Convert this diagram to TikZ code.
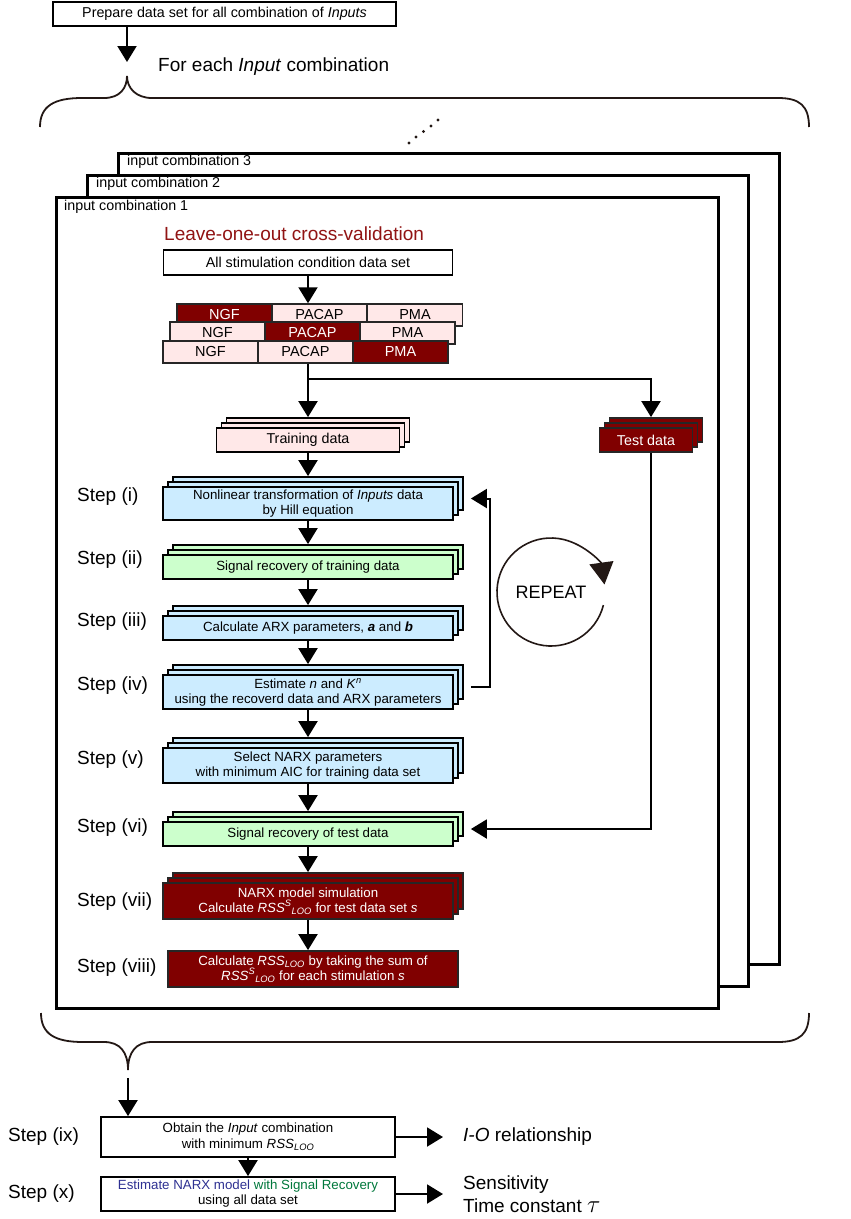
\documentclass[tikz,border=0pt]{standalone}
\usepackage{amsmath}
\usepackage{fontspec}
\setmainfont{Liberation Sans}
\usepackage{tikz}
\usetikzlibrary{arrows.meta,shadows}

\definecolor{darkred}{RGB}{128,0,0}
\definecolor{titlered}{RGB}{145,20,20}
\definecolor{pinkfill}{RGB}{255,232,232}
\definecolor{bluefill}{RGB}{204,236,255}
\definecolor{greenfill}{RGB}{204,255,204}
\definecolor{bracecol}{RGB}{35,24,21}
\definecolor{narxblue}{RGB}{46,49,146}
\definecolor{recgreen}{RGB}{0,120,60}

\newcommand{\rssloo}{\textit{RSS}\textsubscript{\textit{LOO}}}
\newcommand{\rsssloo}{\textit{RSS}\textsuperscript{\textit{S}}\textsubscript{\textit{LOO}}}

\begin{document}
\begin{tikzpicture}[x=1pt, y=-1pt]
    \tikzstyle{arr}=[
        line width = 2pt,
        -{Triangle[length=16pt, width=19pt]}
    ]
    \tikzstyle{brace}=[
        draw = bracecol,
        line width = 1.8pt
    ]
    \tikzstyle{frame}=[
        draw = black,
        line width = 2.5pt,
        fill = white,
        anchor = north west,
        inner sep = 0pt
    ]
    \tikzstyle{frame label}=[
        anchor = west,
        inner sep = 0pt,
        font = \fontsize{14.3}{16}\selectfont
    ]
    \tikzstyle{big text}=[
        anchor = west,
        inner sep = 0pt,
        font = \fontsize{19}{23}\selectfont
    ]
    \tikzstyle{plain box}=[
        draw = black,
        line width = 1.8pt,
        fill = white,
        align = center,
        inner sep = 1pt,
        font = \fontsize{13.3}{15}\selectfont
    ]
    \tikzstyle{stacked}=[
        copy shadow = {shadow xshift=10pt, shadow yshift=10pt},
        copy shadow = {shadow xshift=5pt, shadow yshift=5pt}
    ]
    \tikzstyle{blue step}=[plain box, stacked, fill=bluefill, minimum width=290pt]
    \tikzstyle{green step}=[plain box, stacked, fill=greenfill, minimum width=290pt, minimum height=24pt]
    \tikzstyle{red step}=[plain box, fill=darkred, draw=black!85, text=white, minimum width=290pt]
    \tikzstyle{light cell}=[
        draw = black!85,
        line width = 1.5pt,
        fill = pinkfill,
        minimum width = 95pt,
        minimum height = 22pt,
        inner sep = 0pt,
        font = \fontsize{14.5}{16}\selectfont
    ]
    \tikzstyle{dark cell}=[light cell, fill=darkred, text=white]

    \useasboundingbox (0,0) rectangle (851,1219);

    % top of the chart
    \node[plain box, minimum width=343pt, minimum height=24pt, font=\fontsize{14.3}{16}\selectfont] (prep) at (224.5,14) {Prepare data set for all combination of \textit{Inputs}};
    \coordinate (tip1) at (127,76);
    \coordinate (tip2) at (128,1070);
    \draw[arr] (prep.south -| tip1) -- ([yshift=14pt]tip1);
    \node[big text] (each) at (158,67) {For each \textit{Input} combination};

    \draw[brace] (40,127) .. controls (40,106) and (54,98) .. (82,98) -- (104,98) .. controls (120,98) and (127,88) .. (tip1) .. controls (127,88) and (136,98) .. (152,98) -- (778,98) .. controls (800,98) and (809,106) .. (809,127);
    \fill[bracecol] (409,143) circle[radius=1.6pt] (416,137) circle[radius=1.6pt] (423.5,131.5) circle[radius=1.6pt] (431,126) circle[radius=1.6pt] (438,120) circle[radius=1.6pt];

    % one frame for each input combination
    \node[frame, minimum width=661pt, minimum height=811pt] (comb3) at (117,152) {};
    \node[frame label] (lab3) at (127,162) {input combination 3};
    \node[frame, minimum width=661pt, minimum height=811pt] (comb2) at (86,174) {};
    \node[frame label] (lab2) at (96,184) {input combination 2};
    \node[frame, minimum width=662pt, minimum height=811pt] (comb1) at (55,196) {};
    \node[frame label] (lab1) at (64,207) {input combination 1};

    \node[big text, text=titlered] (loo) at (164,234) {Leave-one-out cross-validation};
    \node[plain box, minimum width=289pt, minimum height=25pt, font=\fontsize{14.3}{16}\selectfont] (all) at (308,262.5) {All stimulation condition data set};

    \node[dark cell]  (ngfA)   at (224.5,315) {NGF};
    \node[light cell] (pacapA) at (319.5,315) {PACAP};
    \node[light cell] (pmaA)   at (415,315)   {PMA};
    \node[light cell] (ngfB)   at (217.5,333) {NGF};
    \node[dark cell]  (pacapB) at (312.5,333) {PACAP};
    \node[light cell] (pmaB)   at (407.5,333) {PMA};
    \node[light cell] (ngfC)   at (210.5,352) {NGF};
    \node[light cell] (pacapC) at (305.5,352) {PACAP};
    \node[dark cell]  (pmaC)   at (400.5,352) {PMA};

    \node[plain box, stacked, fill=pinkfill, minimum width=183pt, minimum height=24pt, font=\fontsize{14.3}{16}\selectfont] (train) at (308,440) {Training data};
    \node[plain box, stacked, fill=darkred, draw=black!85, text=white, minimum width=93pt, minimum height=24pt, font=\fontsize{14.3}{16}\selectfont] (test) at (646,440) {Test data};

    \draw[arr] (all.south) -- (all.south |- pacapA.north);
    \coordinate (split) at (308,379);
    \draw[arr] (all.south |- pacapC.south) -- ([yshift=10pt]train.north);
    \draw[arr] (split) -| ([xshift=5pt,yshift=10pt]test.north);

    % steps of the cross-validation
    \node[blue step, minimum height=33pt] (s1) at (308,503.5) {Nonlinear transformation of \textit{Inputs} data\\by Hill equation};
    \node[green step] (s2) at (308,567) {Signal recovery of training data};
    \node[blue step, minimum height=24pt] (s3) at (308,628) {Calculate ARX parameters, \textbf{\textit{a}} and \textbf{\textit{b}}};
    \node[blue step, minimum height=34pt] (s4) at (308,692) {Estimate \textit{n} and \textit{K}\textsuperscript{\textit{n}}\\using the recoverd data and ARX parameters};
    \node[blue step, minimum height=35pt] (s5) at (308,765.5) {Select NARX parameters\\with minimum AIC for training data set};
    \node[green step] (s6) at (308,834) {Signal recovery of test data};
    \node[red step, stacked, minimum height=36pt] (s7) at (308,901) {NARX model simulation\\Calculate \rsssloo{} for test data set \textit{s}};
    \node[red step, minimum height=36pt] (s8) at (313,969) {Calculate \rssloo{} by taking the sum of\\\rsssloo{} for each stimulation \textit{s}};

    \node[big text] (l1) at (77,497) {Step (i)};
    \node[big text] (l2) at (77,560) {Step (ii)};
    \node[big text] (l3) at (77,622) {Step (iii)};
    \node[big text] (l4) at (77,686) {Step (iv)};
    \node[big text] (l5) at (77,760) {Step (v)};
    \node[big text] (l6) at (77,828) {Step (vi)};
    \node[big text] (l7) at (77,902) {Step (vii)};
    \node[big text] (l8) at (77,968) {Step (viii)};

    \draw[arr] (train.south) -- ([yshift=10pt]s1.north);
    \draw[arr] (s1.south) -- ([yshift=10pt]s2.north);
    \draw[arr] (s2.south) -- ([yshift=10pt]s3.north);
    \draw[arr] (s3.south) -- ([yshift=10pt]s4.north);
    \draw[arr] (s4.south) -- ([yshift=10pt]s5.north);
    \draw[arr] (s5.south) -- ([yshift=10pt]s6.north);
    \draw[arr] (s6.south) -- ([yshift=10pt]s7.north);
    \draw[arr] (s7.south) -- (s7.south |- s8.north);
    \draw[arr] ([xshift=17pt,yshift=5pt]s4.east) -- ++(19,0) |- ([xshift=17pt,yshift=5pt]s1.east);
    \draw[arr] ([xshift=5pt]test.south) |- ([xshift=17pt,yshift=5pt]s6.east);

    \node[font=\fontsize{18}{20}\selectfont] (rep) at (551,592) {REPEAT};
    \draw[draw=bracecol, line width=1.6pt, -{Triangle[length=22pt, width=24pt]}] ([shift={(-14:54pt)}]rep.center) arc[start angle=-14, end angle=-352, radius=54pt];

    % end of the loop over the input combinations
    \draw[brace] (41,1013) .. controls (41,1034) and (55,1042) .. (83,1042) -- (104,1042) .. controls (120,1042) and (128,1052) .. (tip2) .. controls (128,1052) and (136,1042) .. (152,1042) -- (778,1042) .. controls (800,1042) and (809,1034) .. (809,1013);

    \node[plain box, minimum width=294pt, minimum height=40pt, font=\fontsize{13.3}{16}\selectfont] (s9) at (248,1137) {Obtain the \textit{Input} combination\\with minimum \rssloo};
    \node[plain box, minimum width=294pt, minimum height=34pt, font=\fontsize{13.3}{15}\selectfont] (s10) at (248,1194) {\textcolor{narxblue}{Estimate NARX model} \textcolor{recgreen}{with Signal Recovery}\\using all data set};
    \node[big text] (l9) at (8,1137) {Step (ix)};
    \node[big text] (l10) at (8,1194) {Step (x)};
    \node[big text] (io) at (463,1137) {\textit{I-O} relationship};
    \node[big text, align=left] (sens) at (463,1194) {Sensitivity\\Time constant {\fontsize{24}{23}\selectfont$\tau$}};

    \draw[arr] ([yshift=-8pt]tip2) -- (tip2 |- s9.north);
    \draw[arr] (s9.south) -- (s10.north);
    \draw[arr] (s9.east) -- ([xshift=-20pt]io.west);
    \draw[arr] (s10.east) -- ([xshift=-20pt]sens.west);

\end{tikzpicture}
\end{document}
